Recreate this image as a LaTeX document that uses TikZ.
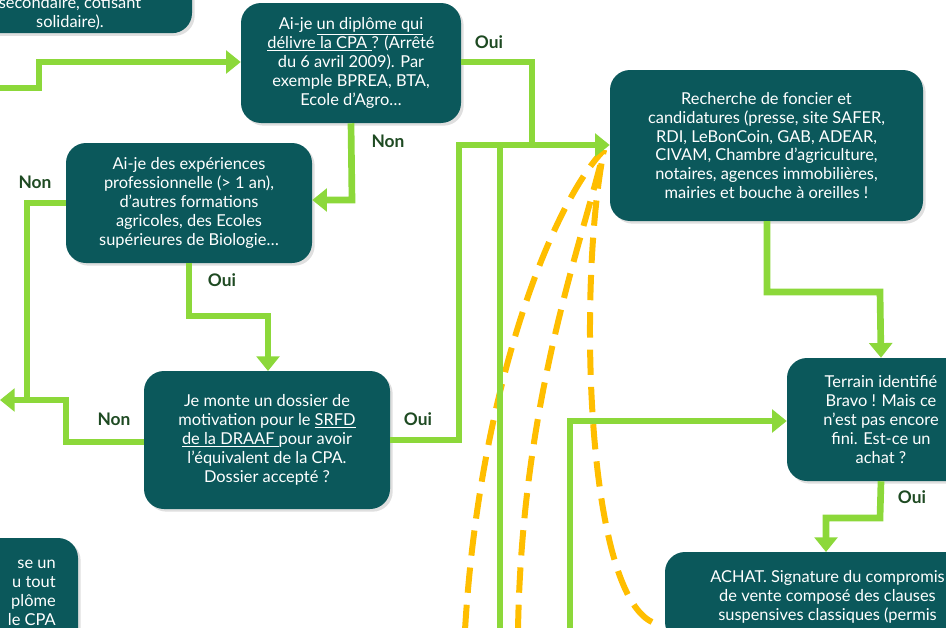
\documentclass[tikz,border=0pt]{standalone}
\usepackage{fontspec}
\setmainfont{Lato}
\usetikzlibrary{arrows.meta,shadows}
\definecolor{boxc}{HTML}{0B585B}
\definecolor{grn}{HTML}{8CD83A}
\definecolor{org}{HTML}{FFBE00}
\definecolor{lab}{HTML}{1E4A22}
\begin{document}
\begin{tikzpicture}[x=0.75pt,y=-0.75pt,
  box/.style={draw=none,fill=boxc,rounded corners=15pt,text=white,align=center,font=\fontsize{12.3}{14.2}\selectfont,inner sep=0pt,drop shadow={opacity=0.25,shadow xshift=2pt,shadow yshift=-2pt}},
  txt/.style={text=white,align=center,font=\fontsize{12.3}{14.2}\selectfont,inner sep=0pt},
  con/.style={draw=grn,line width=5pt,-{Triangle[length=11pt,width=17pt]}},
  lin/.style={draw=grn,line width=5pt},
  dsh/.style={draw=org,line width=4.5pt,dash pattern=on 19pt off 9pt},
  lb/.style={text=lab,font=\fontsize{13}{14}\bfseries\selectfont,inner sep=0pt}]
\useasboundingbox (0,0) rectangle (946,628);
\clip (0,0) rectangle (946,628);
% boxes
\node[box,minimum width=183pt,minimum height=85pt] (A) at (70,-23.5) {};
\node[txt,anchor=south] (At) at (70,30) {secondaire, cotisant\\solidaire).};
\node[box,minimum width=165pt,minimum height=90pt] (B) at (351,63) {Ai-je \underline{un diplôme qui}\\\underline{délivre la CPA }? (Arrêté\\du 6 avril 2009). Par\\exemple BPREA, BTA,\\Ecole d’Agro…};
\node[box,minimum width=184.5pt,minimum height=90pt] (C) at (189,203) {Ai-je des expériences\\professionnelle (> 1 an),\\d’autres formations\\agricoles, des Ecoles\\supérieures de Biologie…};
\node[box,minimum width=184.5pt,minimum height=103.5pt] (D) at (267,440) {Je monte un dossier de\\motivation pour le \underline{SRFD}\\\underline{de la DRAAF }pour avoir\\l’équivalent de la CPA.\\Dossier accepté ?};
\node[box,minimum width=234.75pt,minimum height=113.25pt] (E) at (766.5,145.5) {Recherche de foncier et\\candidatures (presse, site SAFER,\\RDI, LeBonCoin, GAB, ADEAR,\\CIVAM, Chambre d’agriculture,\\notaires, agences immobilières,\\mairies et bouche à oreilles !};
\node[box,minimum width=141pt,minimum height=92.25pt] (F) at (881,419.5) {Terrain identifié\\Bravo ! Mais ce\\n’est pas encore\\fini. Est-ce un\\achat ?};
\node[box,minimum width=243.75pt,minimum height=67.5pt] (G) at (827.5,597) {ACHAT. Signature du compromis\\de vente composé des clauses\\suspensives classiques (permis};
\node[box,minimum width=186pt,minimum height=90pt] (H) at (-46,598) {};
\node[txt,anchor=north east,align=right] (Ht) at (56,560) {se un\\u tout\\plôme\\le CPA};
% orange dashed curves
\coordinate (o1) at (465,630);
\coordinate (o2) at (518,630);
\coordinate (o3) at (652,622);
\coordinate (e1) at (604,150);
\draw[dsh] (o1) .. controls (480,380) and (555,200) .. (e1);
\draw[dsh] (o2) .. controls (522,400) and (580,250) .. (e1);
\draw[dsh] (o3) .. controls (585,590) and (578,280) .. (e1);
% green connectors
\coordinate (l0) at (0,88);
\draw[con] (l0) -- (39,88) -- (39,62) -- (B.west |- 0,62);
\coordinate (j1) at (532,145);
\draw[lin] (B.east |- 0,62) -- (532,62) -- (j1);
\coordinate (v1) at (500,630);
\draw[lin] (v1) -- (500,145);
\draw[con] (D.east |- 0,440) -- (459,440) -- (459,145) -- (E.west |- 0,145);
\draw[con] (B.south) -- (352,200) -- (C.east |- 0,200);
\coordinate (lout) at (0,400);
\draw[lin] (C.west |- 0,203) -- (27,203) -- (27,398);
\draw[con] (D.west |- 0,442) -- (66,442) -- (66,400) -- (lout);
\draw[con] (189,263) -- (189,316) -- (268,316) -- (268,371);
\coordinate (v2) at (570,630);
\draw[con] (v2) -- (570,421) -- (F.west |- 0,421);
\draw[con] (767,221) -- (767,292) -- (880,292) -- (F.north);
\draw[con] (F.south) -- (880,518) -- (826,518) -- (826,552);
% labels
\node[lb] (l1) at (489,42) {Oui};
\node[lb] (l2) at (388,141) {Non};
\node[lb] (l3) at (35,182) {Non};
\node[lb] (l4) at (222,280) {Oui};
\node[lb] (l5) at (114,419) {Non};
\node[lb] (l6) at (418,419) {Oui};
\node[lb] (l7) at (912,497) {Oui};
\end{tikzpicture}
\end{document}
